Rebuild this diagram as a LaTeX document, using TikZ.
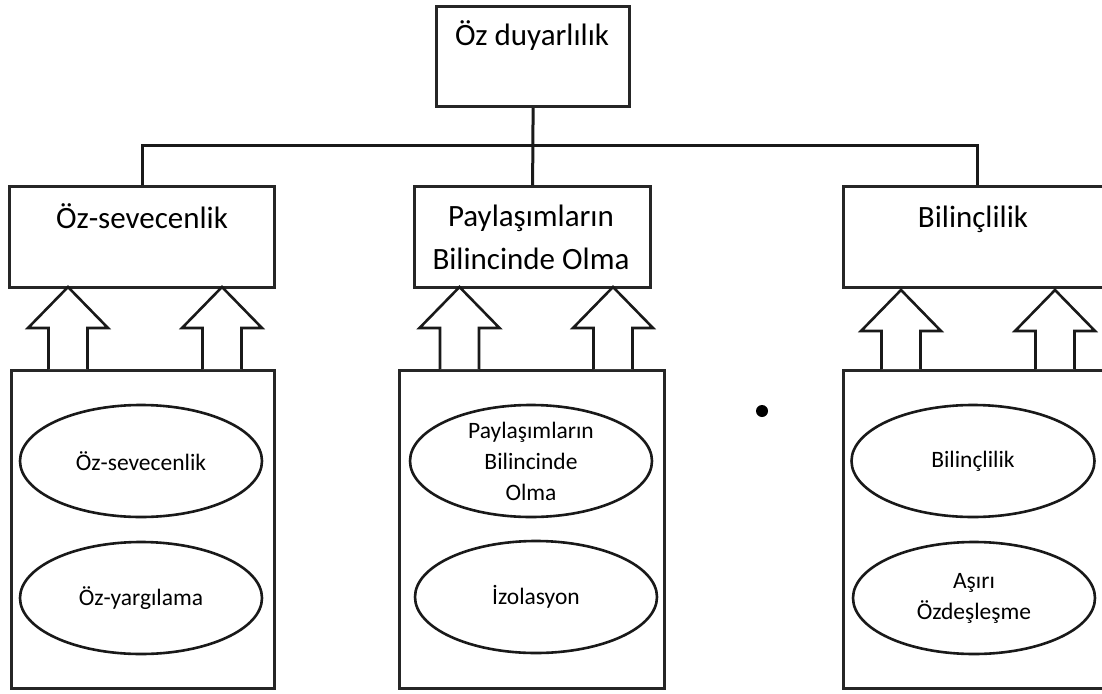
\documentclass[tikz,border=0pt]{standalone}
\usepackage{fontspec}
\setmainfont{Carlito}
\usetikzlibrary{shapes.geometric}
\newcommand{\blockarrow}[2]{%
  \draw[barrow] (#1-19.5,369) -- (#1-19.5,#2+41) -- (#1-40,#2+41) -- (#1,#2)
     -- (#1+40,#2+41) -- (#1+19.5,#2+41) -- (#1+19.5,369);}
\begin{document}
\begin{tikzpicture}[x=1pt,y=-1pt,
  box/.style={draw=black!85,line width=3.2pt,fill=white,inner sep=0pt,anchor=north west},
  oval/.style={ellipse,draw=black!90,line width=2.6pt,inner sep=0pt,minimum width=242pt,minimum height=112pt,align=center,font=\fontsize{23.5}{31}\selectfont},
  bigtxt/.style={font=\fontsize{31}{43}\selectfont,align=center,inner sep=0pt},
  tree/.style={draw=black!90,line width=3pt},
  barrow/.style={draw=black!90,line width=2.6pt,fill=white,line join=miter}
]
\useasboundingbox (0,0) rectangle (1102,693);
\clip (0,0) rectangle (1102,693);
\fill[white] (0,0) rectangle (1102,693);

% top
\node[box,minimum width=193pt,minimum height=100pt] (top) at (435,5) {};
\node[bigtxt] (toptxt) at (532,36) {Öz duyarlılık};

% second row
\node[box,minimum width=265pt,minimum height=101pt] (L) at (8,185) {};
\node[box,minimum width=236pt,minimum height=101pt] (M) at (413,185) {};
\node[box,minimum width=268pt,minimum height=101pt] (R) at (842,185) {};
\node[bigtxt] (Ltxt) at (142,216) {Öz-sevecenlik};
\node[bigtxt] (Mtxt) at (531,237) {Paylaşımların\\Bilincinde Olma};
\node[bigtxt] (Rtxt) at (973,219) {Bilinçlilik};

% tree connectors
\coordinate (hub) at (531,145);
\draw[tree] (top.south) -- (M.north);
\draw[tree] (L.north) |- (hub) -| (R.north);

% bottom boxes
\node[box,minimum width=263pt,minimum height=318pt] (BL) at (10,369) {};
\node[box,minimum width=265pt,minimum height=318pt] (BM) at (398,369) {};
\node[box,minimum width=268pt,minimum height=318pt] (BR) at (842,369) {};

% block arrows
\blockarrow{68}{287}
\blockarrow{222}{287}
\blockarrow{459.5}{287}
\blockarrow{613}{287}
\blockarrow{901}{290}
\blockarrow{1055}{290}

% ellipses
\node[oval] (e1) at (141,461) {Öz-sevecenlik};
\node[oval] (e2) at (141,598) {Öz-yargılama};
\node[oval] (e3) at (531,461) {Paylaşımların\\Bilincinde\\Olma};
\node[oval] (e4) at (536,597) {İzolasyon};
\node[oval,minimum width=243pt] (e5) at (973,461) {Bilinçlilik};
\node[oval] (e6) at (974,598) {Aşırı\\Özdeşleşme};

% dot
\fill[black] (762,411) circle (6);
\end{tikzpicture}
\end{document}
